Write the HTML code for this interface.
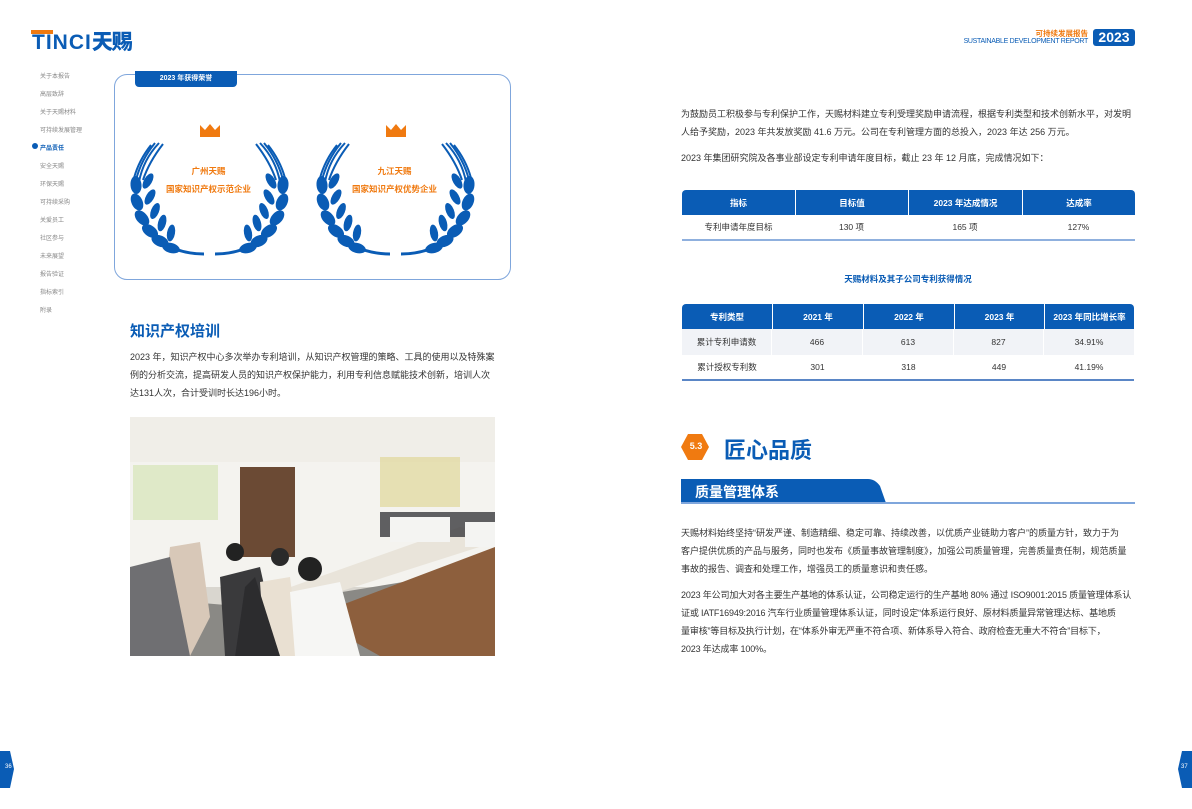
<!DOCTYPE html>
<html><head><meta charset="utf-8"><style>
*{margin:0;padding:0;box-sizing:border-box}
body{width:1192px;height:809px;background:#fff;position:relative;overflow:hidden;font-family:"Liberation Sans","Noto Sans CJK SC",sans-serif;color:#333}
.a{position:absolute;white-space:nowrap}
.nav{font-size:6px;color:#888;left:40px}
p.t{position:absolute;font-size:9px;line-height:18px;color:#333;white-space:nowrap}
table{position:absolute;border-collapse:separate;border-spacing:0;font-size:8.5px;text-align:center}
th{background:#0a5cb5;color:#fff;font-weight:bold;height:25px;border-left:1.5px solid #fff}
th:first-child{border-left:none}
td{height:26px;color:#333}
</style></head><body>
<div class="a" style="left:32px;top:26px;font-size:21px;font-weight:900;color:#0a5cb5;letter-spacing:1px">TINCI<span style="letter-spacing:-1px">天赐</span></div>
<div class="a" style="left:31px;top:30px;width:22px;height:4px;background:#f07a10"></div>
<div class="a" style="right:104px;top:28px;font-size:7.5px;color:#f07a10;font-weight:bold">可持续发展报告</div>
<div class="a" style="right:104px;top:38px;font-size:7px;color:#0a5cb5;letter-spacing:-0.3px">SUSTAINABLE DEVELOPMENT REPORT</div>
<div class="a" style="left:1093px;top:29px;width:42px;height:17px;background:#0a5cb5;border-radius:3px;color:#fff;font-size:14px;line-height:17px;text-align:center;font-weight:bold">2023</div>
<div class="a nav" style="top:71px">关于本报告</div>
<div class="a nav" style="top:89px">高层致辞</div>
<div class="a nav" style="top:107px">关于天赐材料</div>
<div class="a nav" style="top:125px">可持续发展管理</div>
<div class="a" style="left:32px;top:143px;width:6px;height:6px;border-radius:50%;background:#0a5cb5"></div>
<div class="a nav" style="top:143px;color:#0a5cb5;font-weight:bold">产品责任</div>
<div class="a nav" style="top:161px">安全天赐</div>
<div class="a nav" style="top:179px">环保天赐</div>
<div class="a nav" style="top:197px">可持续采购</div>
<div class="a nav" style="top:215px">关爱员工</div>
<div class="a nav" style="top:233px">社区参与</div>
<div class="a nav" style="top:251px">未来展望</div>
<div class="a nav" style="top:269px">报告验证</div>
<div class="a nav" style="top:287px">指标索引</div>
<div class="a nav" style="top:305px">附录</div>
<div class="a" style="left:114px;top:74px;width:397px;height:206px;border:1px solid #7fa6dc;border-radius:13px"></div>
<div class="a" style="left:135px;top:71px;width:102px;height:16px;background:#0a5cb5;border-radius:0 0 4px 4px;color:#fff;font-size:7px;font-weight:bold;text-align:center;line-height:16px">2023 年获得荣誉</div>
<svg class="a" style="left:0;top:0" width="1192" height="809">
<defs>
<g id="half" fill="#0a5cb5">
<path d="M28 3 Q12 20 8 42 M24 3 Q10 20 5 40 M32 4 Q18 22 12 40 M20 5 Q8 20 3 38" stroke="#0a5cb5" stroke-width="2" fill="none"/>
<ellipse cx="5" cy="45" rx="5.5" ry="9" transform="rotate(-5 5 45)"/>
<ellipse cx="17" cy="41" rx="4" ry="8.5" transform="rotate(30 17 41)"/>
<ellipse cx="6" cy="62" rx="5.5" ry="9" transform="rotate(-25 6 62)"/>
<ellipse cx="19" cy="57" rx="4" ry="8.5" transform="rotate(30 19 57)"/>
<ellipse cx="11" cy="78" rx="5.5" ry="9" transform="rotate(-42 11 78)"/>
<ellipse cx="24" cy="71" rx="4" ry="8.5" transform="rotate(22 24 71)"/>
<ellipse cx="19" cy="91" rx="5.5" ry="9" transform="rotate(-55 19 91)"/>
<ellipse cx="31" cy="83" rx="4" ry="8.5" transform="rotate(15 31 83)"/>
<ellipse cx="29" cy="101" rx="5.5" ry="9" transform="rotate(-65 29 101)"/>
<ellipse cx="40" cy="93" rx="4" ry="8.5" transform="rotate(10 40 93)"/>
<ellipse cx="40" cy="108" rx="5" ry="9" transform="rotate(-75 40 108)"/>
<path d="M44 109 Q58 114 73 114" stroke="#0a5cb5" stroke-width="3" fill="none"/>
</g>
<g id="wreath"><use href="#half"/><use href="#half" transform="translate(157 0) scale(-1 1)"/>
<path d="M69 -15 l0 12 l20 0 l0 -12 l-5 5 l-5 -6 l-5 6z" fill="#f07a10"/></g>
</defs>
<use href="#wreath" x="131" y="140"/>
<use href="#wreath" x="317" y="140"/>
<path d="M0 751 L10 751 L14 769 L10 788 L0 788Z" fill="#0a5cb5"/>
<path d="M1192 751 L1182 751 L1178 769 L1182 788 L1192 788Z" fill="#0a5cb5"/>
<path d="M688 434 L702 434 L709 447 L702 460 L688 460 L681 447Z" fill="#f07a10"/>
<path d="M681 479 L868 479 Q875 479 880 486 L886 503 L681 503Z" fill="#0a5cb5"/>
<rect x="681" y="502" width="454" height="2" fill="#7fa6dc"/>
</svg>
<div class="a" style="left:5px;top:764px;font-size:6px;color:#fff">36</div>
<div class="a" style="left:1181px;top:764px;font-size:6px;color:#fff">37</div>
<div class="a" style="left:130px;top:162px;width:157px;text-align:center;font-size:8.5px;color:#f07a10;font-weight:bold;line-height:18px">广州天赐<br>国家知识产权示范企业</div>
<div class="a" style="left:316px;top:162px;width:157px;text-align:center;font-size:8.5px;color:#f07a10;font-weight:bold;line-height:18px">九江天赐<br>国家知识产权优势企业</div>
<div class="a" style="left:130px;top:320px;font-size:15px;font-weight:bold;color:#0a5cb5">知识产权培训</div>
<p class="t" style="left:130px;top:348px">2023 年，知识产权中心多次举办专利培训，从知识产权管理的策略、工具的使用以及特殊案<br>例的分析交流，提高研发人员的知识产权保护能力，利用专利信息赋能技术创新，培训人次<br>达131人次，合计受训时长达196小时。</p>
<svg class="a" style="left:130px;top:417px" width="365" height="239">
<rect width="365" height="239" fill="#d9d6cf"/>
<rect width="365" height="45" fill="#f0eee8"/>
<rect y="45" width="365" height="125" fill="#f4f3ef"/>
<rect x="3" y="48" width="85" height="55" fill="#dfe9c8"/>
<rect x="110" y="50" width="55" height="90" fill="#6b4a34"/>
<rect x="250" y="40" width="80" height="50" fill="#e0d79a" opacity=".7"/>
<path d="M0 239 L0 180 L120 190 L365 150 L365 239Z" fill="#8a8985"/>
<path d="M110 190 L230 205 L365 160 L365 239 L300 239 Z" fill="#9b6a42"/>
<path d="M180 200 L365 130 L365 239 L250 239 Z" fill="#8d5f3d"/>
<path d="M110 188 L330 110 L365 115 L365 125 L130 200Z" fill="#e9e4da"/>
<path d="M40 130 L70 125 L80 200 L60 239 L30 239Z" fill="#d8c8b8"/>
<path d="M90 160 L130 150 L150 239 L95 239Z" fill="#3a3a3c"/>
<path d="M130 165 L160 160 L170 239 L135 239Z" fill="#e9e0d2"/>
<path d="M160 175 L210 165 L230 239 L165 239Z" fill="#f6f6f4"/>
<path d="M105 240 L115 170 L125 160 L150 239Z" fill="#2c2c2e"/>
<path d="M0 150 L40 140 L60 239 L0 239Z" fill="#6f6f72"/>
<circle cx="180" cy="152" r="12" fill="#222"/>
<circle cx="105" cy="135" r="9" fill="#222"/>
<circle cx="150" cy="140" r="9" fill="#2a2a2a"/>
<rect x="250" y="95" width="115" height="25" fill="#3a3a3d" opacity=".8"/>
<rect x="260" y="100" width="60" height="25" fill="#f4f4f2"/>
<rect x="335" y="105" width="30" height="25" fill="#f4f4f2"/>
</svg>
<p class="t" style="left:681px;top:105px">为鼓励员工积极参与专利保护工作，天赐材料建立专利受理奖励申请流程，根据专利类型和技术创新水平，对发明<br>人给予奖励，2023 年共发放奖励 41.6 万元。公司在专利管理方面的总投入，2023 年达 256 万元。</p>
<p class="t" style="left:681px;top:149px">2023 年集团研究院及各事业部设定专利申请年度目标，截止 23 年 12 月底，完成情况如下：</p>
<table style="left:682px;top:190px;width:453px">
<tr><th style="width:113px;border-radius:4px 0 0 0">指标</th><th style="width:113px">目标值</th><th style="width:114px">2023 年达成情况</th><th style="border-radius:0 4px 0 0">达成率</th></tr>
<tr><td style="border-bottom:2px solid #8fb0de">专利申请年度目标</td><td style="border-bottom:2px solid #8fb0de">130 项</td><td style="border-bottom:2px solid #8fb0de">165 项</td><td style="border-bottom:2px solid #8fb0de">127%</td></tr>
</table>
<div class="a" style="left:808px;top:273px;width:200px;text-align:center;font-size:8.5px;color:#0a5cb5;font-weight:bold">天赐材料及其子公司专利获得情况</div>
<table style="left:682px;top:304px;width:452px">
<tr><th style="width:90px;border-radius:4px 0 0 0">专利类型</th><th style="width:91px">2021 年</th><th style="width:91px">2022 年</th><th style="width:90px">2023 年</th><th style="border-radius:0 4px 0 0">2023 年同比增长率</th></tr>
<tr style="background:#f1f3f7"><td style="border-right:1.5px solid #fff">累计专利申请数</td><td style="border-right:1.5px solid #fff">466</td><td style="border-right:1.5px solid #fff">613</td><td style="border-right:1.5px solid #fff">827</td><td>34.91%</td></tr>
<tr><td style="border-bottom:2px solid #5a86c6">累计授权专利数</td><td style="border-bottom:2px solid #5a86c6">301</td><td style="border-bottom:2px solid #5a86c6">318</td><td style="border-bottom:2px solid #5a86c6">449</td><td style="border-bottom:2px solid #5a86c6">41.19%</td></tr>
</table>
<div class="a" style="left:682px;top:441px;width:28px;text-align:center;font-size:9px;color:#fff;font-weight:bold">5.3</div>
<div class="a" style="left:724px;top:433px;font-size:22px;font-weight:bold;color:#0a5cb5">匠心品质</div>
<div class="a" style="left:695px;top:482px;font-size:14px;font-weight:bold;color:#fff">质量管理体系</div>
<p class="t" style="left:681px;top:524px">天赐材料始终坚持“研发严谨、制造精细、稳定可靠、持续改善，以优质产业链助力客户”的质量方针，致力于为<br>客户提供优质的产品与服务，同时也发布《质量事故管理制度》，加强公司质量管理，完善质量责任制，规范质量<br>事故的报告、调查和处理工作，增强员工的质量意识和责任感。</p>
<p class="t" style="left:681px;top:586px;letter-spacing:-0.15px">2023 年公司加大对各主要生产基地的体系认证，公司稳定运行的生产基地 80% 通过 ISO9001:2015 质量管理体系认<br>证或 IATF16949:2016 汽车行业质量管理体系认证，同时设定“体系运行良好、原材料质量异常管理达标、基地质<br>量审核”等目标及执行计划，在“体系外审无严重不符合项、新体系导入符合、政府检查无重大不符合”目标下，<br>2023 年达成率 100%。</p>
</body></html>
